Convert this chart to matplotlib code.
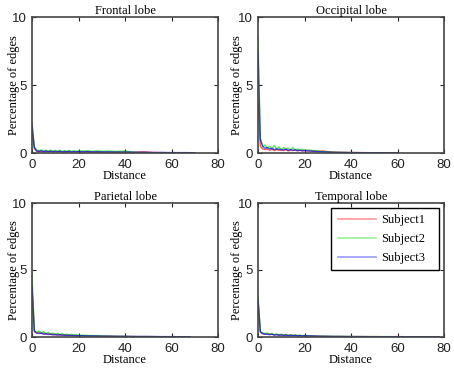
import matplotlib
matplotlib.use("Agg")
import matplotlib.pyplot as plt

# ---------------- data ----------------
titles = ["Frontal lobe", "Occipital lobe", "Parietal lobe", "Temporal lobe"]
subjects = ["Subject1", "Subject2", "Subject3"]
x_ticks = [0, 20, 40, 60, 80]
y_ticks = [0, 5, 10]

frontal_x = list(range(0, 21)) + [22, 24, 26, 28, 30, 33, 36, 40, 44, 48, 52, 56, 60, 65, 70]
frontal_s1 = [1.6, 0.35, 0.12, 0.10, 0.14, 0.08, 0.12, 0.09, 0.13, 0.08, 0.11, 0.09, 0.12, 0.07, 0.10, 0.09, 0.11, 0.07, 0.10, 0.08, 0.09,
              0.08, 0.10, 0.07, 0.09, 0.07, 0.08, 0.06, 0.07, 0.05, 0.09, 0.04, 0.03, 0.02, 0.01, 0.01]
frontal_s2 = [2.0, 0.45, 0.20, 0.18, 0.22, 0.14, 0.20, 0.15, 0.21, 0.13, 0.19, 0.14, 0.20, 0.12, 0.18, 0.13, 0.19, 0.12, 0.17, 0.13, 0.16,
              0.15, 0.17, 0.12, 0.16, 0.13, 0.14, 0.12, 0.15, 0.05, 0.03, 0.02, 0.02, 0.01, 0.01, 0.01]
frontal_s3 = [2.2, 0.40, 0.15, 0.12, 0.16, 0.10, 0.14, 0.09, 0.13, 0.10, 0.12, 0.09, 0.13, 0.08, 0.11, 0.09, 0.12, 0.08, 0.10, 0.09, 0.10,
              0.09, 0.10, 0.08, 0.09, 0.08, 0.08, 0.07, 0.07, 0.06, 0.05, 0.04, 0.04, 0.03, 0.03, 0.02]

occipital_x = list(range(0, 21)) + [22, 24, 26, 28, 30, 33, 36, 40, 45, 50, 55, 60]
occipital_s1 = [3.8, 0.5, 0.3, 0.25, 0.3, 0.2, 0.28, 0.18, 0.25, 0.2, 0.22, 0.18, 0.25, 0.15, 0.2, 0.18, 0.22, 0.15, 0.2, 0.16, 0.18,
                0.15, 0.14, 0.12, 0.15, 0.1, 0.06, 0.05, 0.04, 0.03, 0.02, 0.02, 0.01]
occipital_s2 = [8.5, 1.1, 0.45, 0.6, 0.35, 0.5, 0.3, 0.55, 0.3, 0.45, 0.25, 0.4, 0.3, 0.35, 0.25, 0.4, 0.22, 0.3, 0.2, 0.28, 0.2,
                0.22, 0.18, 0.15, 0.1, 0.08, 0.05, 0.04, 0.03, 0.02, 0.02, 0.01, 0.01]
occipital_s3 = [7.3, 1.0, 0.5, 0.35, 0.4, 0.3, 0.35, 0.25, 0.3, 0.28, 0.25, 0.22, 0.28, 0.2, 0.25, 0.2, 0.22, 0.18, 0.2, 0.16, 0.18,
                0.15, 0.12, 0.1, 0.08, 0.06, 0.05, 0.04, 0.03, 0.02, 0.02, 0.01, 0.01]

parietal_x = list(range(0, 21)) + [22, 24, 26, 28, 30, 33, 36, 40, 45, 50, 55, 60, 64, 68]
parietal_s1 = [3.8, 0.4, 0.3, 0.35, 0.25, 0.3, 0.2, 0.25, 0.18, 0.22, 0.15, 0.2, 0.14, 0.18, 0.12, 0.15, 0.12, 0.14, 0.1, 0.12, 0.1,
               0.1, 0.09, 0.08, 0.08, 0.07, 0.06, 0.05, 0.04, 0.03, 0.03, 0.02, 0.02, 0.01, 0.01]
parietal_s2 = [4.8, 0.5, 0.35, 0.45, 0.3, 0.4, 0.25, 0.35, 0.22, 0.3, 0.2, 0.28, 0.18, 0.25, 0.15, 0.22, 0.15, 0.2, 0.14, 0.18, 0.12,
               0.14, 0.12, 0.1, 0.1, 0.08, 0.07, 0.05, 0.04, 0.03, 0.03, 0.02, 0.02, 0.01, 0.01]
parietal_s3 = [3.7, 0.45, 0.3, 0.25, 0.3, 0.2, 0.25, 0.18, 0.22, 0.15, 0.2, 0.13, 0.18, 0.12, 0.15, 0.11, 0.13, 0.1, 0.12, 0.09, 0.1,
               0.09, 0.08, 0.08, 0.07, 0.06, 0.06, 0.05, 0.05, 0.04, 0.04, 0.03, 0.03, 0.02, 0.02]

temporal_x = list(range(0, 21)) + [22, 24, 26, 28, 30, 33, 36, 40, 45, 50, 55, 60, 65, 70, 74, 78]
temporal_s1 = [2.7, 0.35, 0.25, 0.2, 0.25, 0.18, 0.22, 0.15, 0.2, 0.14, 0.18, 0.13, 0.16, 0.12, 0.15, 0.11, 0.14, 0.1, 0.12, 0.09, 0.1,
               0.08, 0.07, 0.06, 0.05, 0.05, 0.04, 0.04, 0.03, 0.03, 0.03, 0.02, 0.03, 0.02, 0.01, 0.02, 0.01]
temporal_s2 = [3.1, 0.4, 0.3, 0.25, 0.3, 0.2, 0.26, 0.17, 0.22, 0.15, 0.2, 0.14, 0.18, 0.13, 0.16, 0.12, 0.15, 0.11, 0.13, 0.1, 0.11,
               0.09, 0.08, 0.07, 0.06, 0.05, 0.05, 0.04, 0.04, 0.03, 0.03, 0.03, 0.02, 0.02, 0.02, 0.01, 0.01]
temporal_s3 = [2.8, 0.4, 0.25, 0.22, 0.2, 0.18, 0.2, 0.15, 0.17, 0.13, 0.15, 0.12, 0.14, 0.1, 0.12, 0.1, 0.11, 0.09, 0.1, 0.08, 0.09,
               0.08, 0.07, 0.06, 0.05, 0.05, 0.04, 0.04, 0.03, 0.03, 0.02, 0.02, 0.02, 0.02, 0.01, 0.01, 0.01]

panels = [
    (frontal_x, [frontal_s1, frontal_s2, frontal_s3]),
    (occipital_x, [occipital_s1, occipital_s2, occipital_s3]),
    (parietal_x, [parietal_s1, parietal_s2, parietal_s3]),
    (temporal_x, [temporal_s1, temporal_s2, temporal_s3]),
]

# ---------------- style ----------------
colors = ["#ff0000", "#00dd00", "#0000ff"]
serif = ["Liberation Serif", "DejaVu Serif"]
sans = ["Liberation Sans", "DejaVu Sans"]

W, H = 454, 368
fig = plt.figure(figsize=(W / 100, H / 100), dpi=100)

# axes rectangles in pixels: (left, top, right, bottom)
rects = [(32, 17, 218, 153), (258, 17, 444, 153),
         (32, 203, 218, 337), (258, 203, 444, 337)]
ylabel_x = [-0.066, -0.08, -0.066, -0.08]

for i, ((l, t, r, b), title, (xs, series)) in enumerate(zip(rects, titles, panels)):
    ax = fig.add_axes([l / W, 1 - b / H, (r - l) / W, (b - t) / H])
    for s, c, name in zip(series, colors, subjects):
        ax.plot(xs, s, color=c, lw=1.0, alpha=0.65, label=name)
    ax.set_xlim(0, 80)
    ax.set_ylim(0, 10)
    ax.set_xticks(x_ticks)
    ax.set_yticks(y_ticks)
    ax.tick_params(direction="in", top=True, right=True, length=3, width=0.8,
                   labelsize=9.5, pad=4, colors="#222222")
    ax.tick_params(axis="x", pad=4.5)
    for lab in ax.get_xticklabels() + ax.get_yticklabels():
        lab.set_family(sans)
    for sp in ax.spines.values():
        sp.set_linewidth(1.2)
        sp.set_color("#444444")
    ax.set_title(title, fontsize=9, family=serif, pad=2)
    ax.set_xlabel("Distance", fontsize=9, family=serif)
    ax.set_ylabel("Percentage of edges", fontsize=9, family=serif)
    ax.xaxis.set_label_coords(0.5, -0.125)
    ax.yaxis.set_label_coords(ylabel_x[i], 0.5)

    if i == 3:
        leg = ax.legend(loc="upper left", bbox_to_anchor=(0.395, 0.517, 0.577, 0.446),
                        mode="expand", borderaxespad=0, fancybox=False,
                        edgecolor="black", framealpha=1, handlelength=3.1,
                        handletextpad=0.4, labelspacing=0.55, borderpad=0.5,
                        prop={"family": serif, "size": 9})
        leg.get_frame().set_linewidth(1.0)
        for h in leg.get_lines():
            h.set_alpha(0.4)
            h.set_linewidth(1.2)

fig.savefig("out.png", dpi=100)
